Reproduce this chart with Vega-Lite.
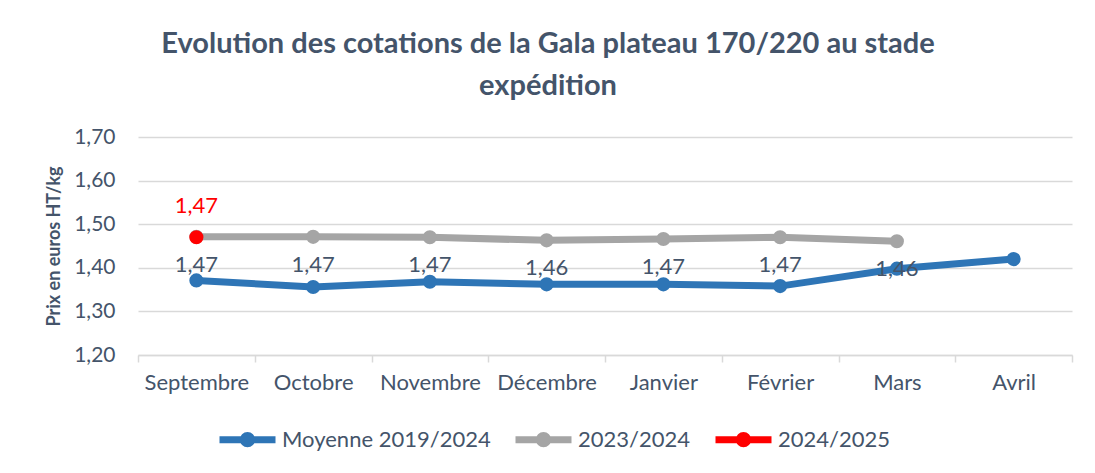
{
  "$schema": "https://vega.github.io/schema/vega-lite/v6.json",
  "width": 934,
  "height": 218,
  "autosize": "none",
  "padding": {"left": 138, "top": 137, "right": 23, "bottom": 118},
  "background": "white",
  "title": {
    "text": ["Evolution des cotations de la Gala plateau 170/220 au stade", "expédition"],
    "font": "Lato",
    "fontSize": 29,
    "fontWeight": "bold",
    "color": "#44546A",
    "anchor": "middle",
    "dx": -57,
    "offset": 25,
    "lineHeight": 42
  },
  "data": {
    "values": [
      {"mois": "Septembre", "serie": "Moyenne 2019/2024", "prix": 1.371},
      {"mois": "Octobre", "serie": "Moyenne 2019/2024", "prix": 1.356},
      {"mois": "Novembre", "serie": "Moyenne 2019/2024", "prix": 1.368},
      {"mois": "Décembre", "serie": "Moyenne 2019/2024", "prix": 1.362},
      {"mois": "Janvier", "serie": "Moyenne 2019/2024", "prix": 1.362},
      {"mois": "Février", "serie": "Moyenne 2019/2024", "prix": 1.358},
      {"mois": "Mars", "serie": "Moyenne 2019/2024", "prix": 1.398},
      {"mois": "Avril", "serie": "Moyenne 2019/2024", "prix": 1.42},
      {"mois": "Septembre", "serie": "2023/2024", "prix": 1.471},
      {"mois": "Octobre", "serie": "2023/2024", "prix": 1.471},
      {"mois": "Novembre", "serie": "2023/2024", "prix": 1.47},
      {"mois": "Décembre", "serie": "2023/2024", "prix": 1.463},
      {"mois": "Janvier", "serie": "2023/2024", "prix": 1.466},
      {"mois": "Février", "serie": "2023/2024", "prix": 1.47},
      {"mois": "Mars", "serie": "2023/2024", "prix": 1.461},
      {"mois": "Septembre", "serie": "2024/2025", "prix": 1.47}
    ]
  },
  "encoding": {
    "x": {
      "field": "mois",
      "type": "nominal",
      "sort": ["Septembre", "Octobre", "Novembre", "Décembre", "Janvier", "Février", "Mars", "Avril"],
      "scale": {"type": "band", "paddingInner": 0, "paddingOuter": 0},
      "bandPosition": 0.5,
      "axis": {
        "title": null,
        "tickBand": "extent",
        "grid": false,
        "domainColor": "#D9D9D9",
        "domainWidth": 1.5,
        "tickColor": "#D9D9D9",
        "tickWidth": 1.5,
        "tickSize": 7,
        "labelAngle": 0,
        "labelFont": "Lato",
        "labelFontSize": 22,
        "labelColor": "#44546A",
        "labelPadding": 10
      }
    },
    "y": {
      "field": "prix",
      "type": "quantitative",
      "scale": {"domain": [1.2, 1.7], "nice": false, "zero": false},
      "axis": {
        "title": "Prix en euros HT/kg",
        "titleFont": "Lato",
        "titleFontSize": 18,
        "titleFontWeight": "bold",
        "titleColor": "#44546A",
        "titlePadding": 10,
        "values": [1.2, 1.3, 1.4, 1.5, 1.6, 1.7],
        "format": ".2f",
        "labelFont": "Lato",
        "labelFontSize": 21,
        "labelColor": "#44546A",
        "labelPadding": 23,
        "ticks": false,
        "domain": false,
        "gridColor": "#D9D9D9",
        "gridWidth": 1.5
      }
    },
    "color": {
      "field": "serie",
      "type": "nominal",
      "scale": {
        "domain": ["Moyenne 2019/2024", "2023/2024", "2024/2025"],
        "range": ["#2E75B6", "#A5A5A5", "#FF0000"]
      },
      "legend": {
        "title": null,
        "orient": "none",
        "direction": "horizontal",
        "legendX": 78,
        "legendY": 271,
        "symbolType": "M-1,0H1M0.15,0A0.15,0.15 0 1 1 -0.15,0A0.15,0.15 0 1 1 0.15,0",
        "symbolSize": 3136,
        "symbolStrokeWidth": 7,
        "labelFont": "Lato",
        "labelFontSize": 22,
        "labelLimit": 400,
        "labelColor": "#44546A",
        "labelOffset": 3,
        "columnPadding": 10
      }
    }
  },
  "layer": [
    {"mark": {"type": "line", "strokeWidth": 7}},
    {"mark": {"type": "point", "filled": true, "size": 200, "opacity": 1}},
    {
      "transform": [{"filter": "datum.serie === '2023/2024'"}],
      "mark": {"type": "text", "dy": 28, "font": "Lato", "fontSize": 22, "baseline": "middle"},
      "encoding": {
        "text": {"field": "prix", "type": "quantitative", "format": ".2f"},
        "color": {"value": "#44546A"}
      }
    },
    {
      "transform": [{"filter": "datum.serie === '2024/2025'"}],
      "mark": {"type": "text", "dy": -31, "font": "Lato", "fontSize": 22, "baseline": "middle"},
      "encoding": {
        "text": {"field": "prix", "type": "quantitative", "format": ".2f"},
        "color": {"value": "#FF0000"}
      }
    }
  ],
  "config": {
    "locale": {
      "number": {"decimal": ",", "thousands": " ", "grouping": [3], "currency": ["", " €"]}
    },
    "view": {"stroke": null}
  }
}
